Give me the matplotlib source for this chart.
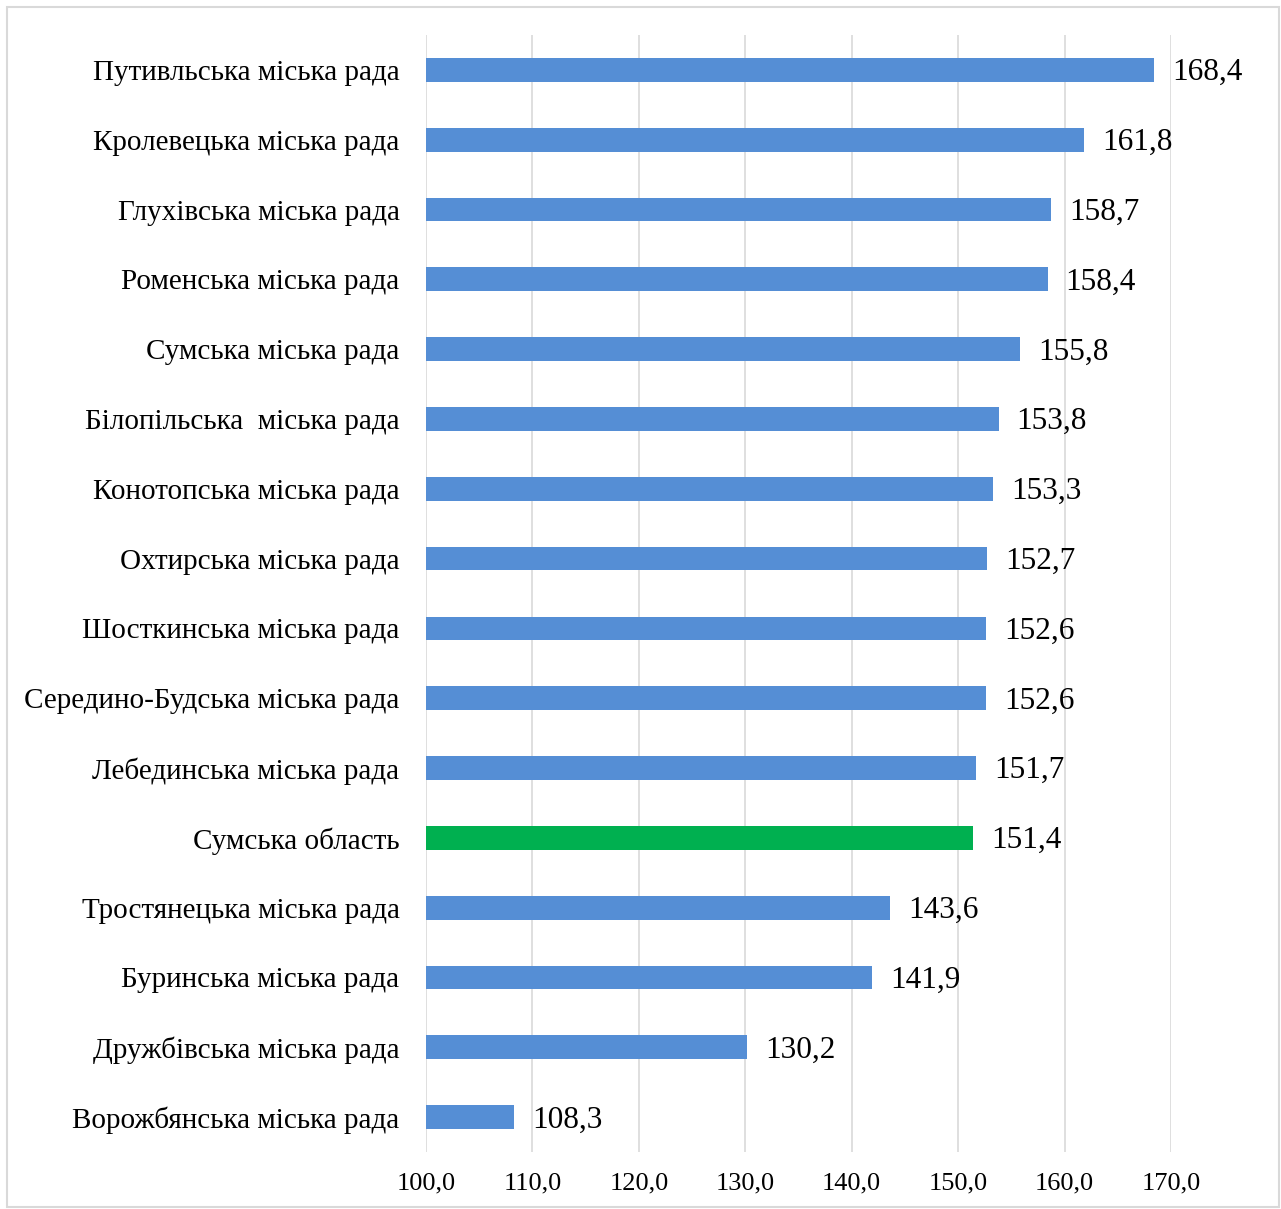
import matplotlib.pyplot as plt
import matplotlib.patches as mpatches

# data (top to bottom as in the chart)
categories = [
    'Путивльська міська рада',
    'Кролевецька міська рада',
    'Глухівська міська рада',
    'Роменська міська рада',
    'Сумська міська рада',
    'Білопільська  міська рада',
    'Конотопська міська рада',
    'Охтирська міська рада',
    'Шосткинська міська рада',
    'Середино-Будська міська рада',
    'Лебединська міська рада',
    'Сумська область',
    'Тростянецька міська рада',
    'Буринська міська рада',
    'Дружбівська міська рада',
    'Ворожбянська міська рада',
]
values = [168.4, 161.8, 158.7, 158.4, 155.8, 153.8, 153.3, 152.7,
          152.6, 152.6, 151.7, 151.4, 143.6, 141.9, 130.2, 108.3]
highlight = 'Сумська область'
ticks = [100, 110, 120, 130, 140, 150, 160, 170]

blue = '#558ED5'
green = '#00B050'

plt.rcParams['font.family'] = ['Liberation Serif', 'DejaVu Serif']

fig = plt.figure(figsize=(12.81, 12.09), dpi=100)
ax = fig.add_axes([426 / 1281, 1 - 1152 / 1209, (1171 - 426) / 1281, (1152 - 35) / 1209])

# light border round the whole chart
fig.patches.append(mpatches.Rectangle((7 / 1281, 2 / 1209), 1272 / 1281, 1200 / 1209,
                                      transform=fig.transFigure, fill=False,
                                      edgecolor='#D9D9D9', linewidth=1.5))

n = len(categories)
ypos = list(range(n))[::-1]
colors = [green if c == highlight else blue for c in categories]
ax.barh(ypos, [v - 100 for v in values], left=100, height=0.34, color=colors, zorder=3)

for y, v in zip(ypos, values):
    ax.annotate(f'{v:.1f}'.replace('.', ','), xy=(v, y), xytext=(13, -2),
                textcoords='offset points', va='center', ha='left',
                fontsize=22.5, annotation_clip=False)

ax.set_xlim(100, 170)
ax.set_ylim(-0.5, n - 0.5)
ax.set_xticks(ticks)
ax.set_xticklabels([f'{t:.1f}'.replace('.', ',') for t in ticks], fontsize=19)
ax.set_yticks(ypos)
ax.set_yticklabels(categories, fontsize=21)
ax.tick_params(axis='both', length=0)
ax.tick_params(axis='y', pad=19)
ax.tick_params(axis='x', pad=15)
ax.grid(axis='x', color='#D9D9D9', linewidth=1.2, zorder=0)
for s in ax.spines.values():
    s.set_visible(False)

fig.savefig('out.png', dpi=100)
